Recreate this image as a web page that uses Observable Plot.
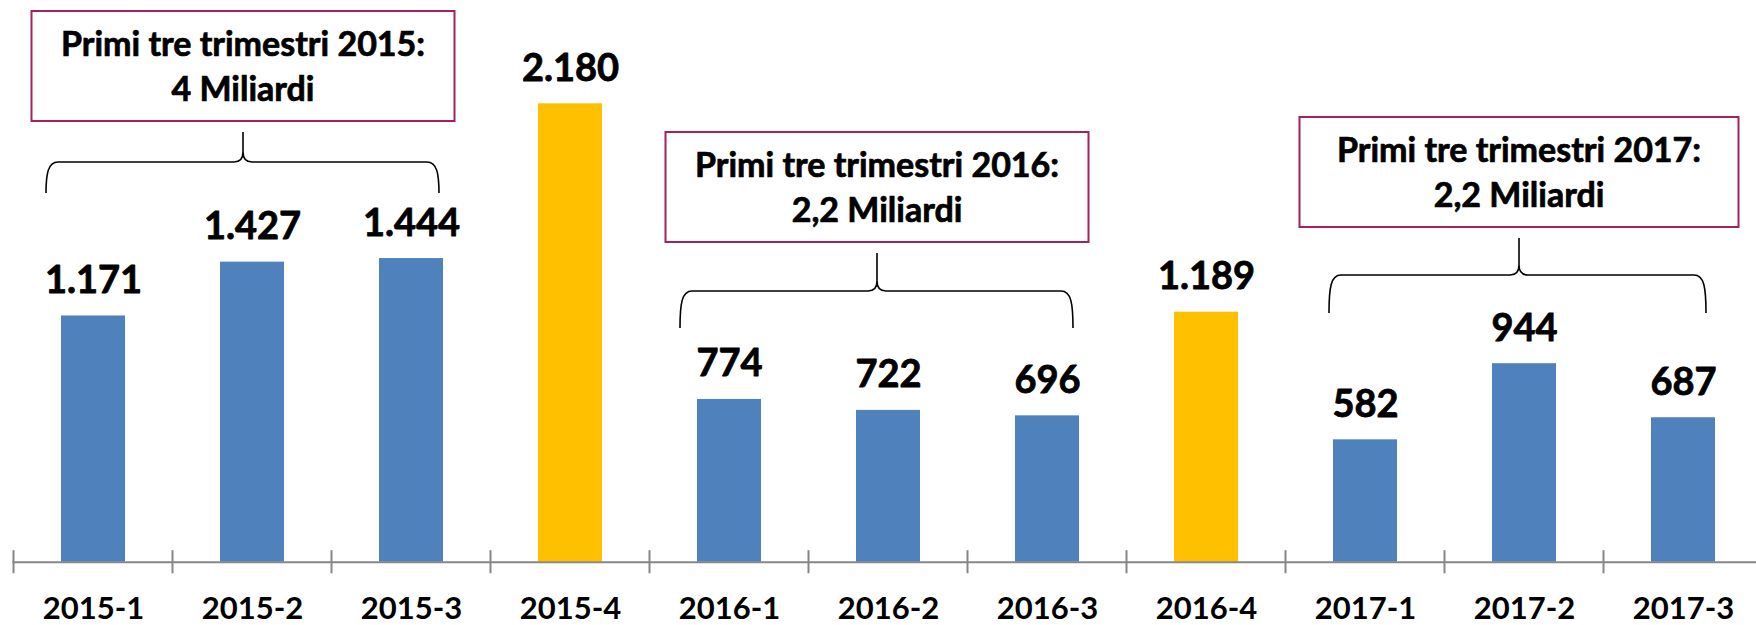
<!DOCTYPE html>
<html>
<head>
<meta charset="utf-8">
<script src="https://cdn.jsdelivr.net/npm/d3@7"></script>
<script src="https://cdn.jsdelivr.net/npm/@observablehq/plot@0.6"></script>
<style>
  html, body { margin: 0; padding: 0; background: #fff; overflow: hidden; }
  #chart svg { display: block; }
</style>
</head>
<body>
<div id="chart"></div>
<script>
// ---- data ----
const quarters = ["2015-1","2015-2","2015-3","2015-4","2016-1","2016-2","2016-3","2016-4","2017-1","2017-2","2017-3"];
const values   = [1171, 1427, 1444, 2180, 774, 722, 696, 1189, 582, 944, 687];
const fourthQuarter = [false,false,false,true,false,false,false,true,false,false,false];

const groupMid   = ["2015-2", "2016-2", "2017-2"];
const groupTitle = ["Primi tre trimestri 2015:", "Primi tre trimestri 2016:", "Primi tre trimestri 2017:"];
const groupTotal = ["4 Miliardi", "2,2 Miliardi", "2,2 Miliardi"];

// ---- styles / layout ----
const COL = { bar: "#4F81BD", q4: "#FFC000", axis: "#868686", box: "#A3215F", text: "#000" };
const FONT = "Lato, 'Open Sans', sans-serif";
const ANN = {
  tipDx:      [-9, -11, -5],
  braceLeft:  [197, 197, 190],
  braceRight: [196, 196, 187],
  braceH:     [162, 291, 275],
  braceB:     [193, 328, 313],
  braceTip:   [132, 253, 238],
  boxHalf:    [211.5, 211.5, 219.5],
  boxTop:     [11, 132, 117],
  boxH: 110,
  line1: 45,
  line2: 89.5
};

const fmt = d3.formatLocale({decimal: ",", thousands: ".", grouping: [3], currency: ["", "€"]}).format(",d");
const data = quarters.map((q, i) => ({q, v: values[i], q4: fourthQuarter[i]}));

function annotations(index, scales, vals, dims, context) {
  const g = d3.create("svg:g");
  const bw = scales.x.bandwidth();
  const step = scales.x.step();
  const y0 = scales.y(0);
  // axis ticks at category boundaries
  quarters.forEach(q => {
    const x = scales.x(q) - (step - bw) / 2;
    g.append("line").attr("x1", x).attr("x2", x).attr("y1", y0 - 11.5).attr("y2", y0 + 11.5)
      .attr("stroke", COL.axis).attr("stroke-width", 2);
  });
  groupMid.forEach((m, i) => {
    const cx = scales.x(m) + bw / 2;
    const T = cx + ANN.tipDx[i];
    const L = T - ANN.braceLeft[i], R = T + ANN.braceRight[i];
    const H = ANN.braceH[i], B = ANN.braceB[i], P = ANN.braceTip[i];
    const path =
      `M${L},${B} C${L},${H + 12} ${L + 2},${H} ${L + 12},${H} L${T - 9},${H} C${T - 3},${H} ${T},${H - 3} ${T},${H - 10} L${T},${P} ` +
      `M${T},${H - 10} C${T},${H - 3} ${T + 3},${H} ${T + 9},${H} L${R - 12},${H} C${R - 2},${H} ${R},${H + 12} ${R},${B}`;
    g.append("path").attr("d", path).attr("fill", "none").attr("stroke", "#000").attr("stroke-width", 1.6);
    const top = ANN.boxTop[i], hw = ANN.boxHalf[i];
    g.append("rect").attr("x", T - hw).attr("y", top).attr("width", 2 * hw).attr("height", ANN.boxH)
      .attr("fill", "#fff").attr("stroke", COL.box).attr("stroke-width", 2);
    const t = g.append("text").attr("text-anchor", "middle").attr("font-family", FONT)
      .attr("font-weight", "bold").attr("font-size", 34).attr("fill", COL.text)
      .attr("stroke", COL.text).attr("stroke-width", 0.7);
    t.append("tspan").attr("x", T).attr("y", top + ANN.line1).text(groupTitle[i]);
    t.append("tspan").attr("x", T).attr("y", top + ANN.line2).text(groupTotal[i]);
  });
  return g.node();
}

const plot = Plot.plot({
  width: 1756,
  height: 625,
  marginLeft: 12.4,
  marginRight: -7.6,
  marginTop: 103.3,
  marginBottom: 63.3,
  style: { fontFamily: FONT, color: "#000", background: "#fff", overflow: "visible" },
  x: { domain: quarters, paddingInner: 0.6, paddingOuter: 0.3, label: null },
  y: { domain: [0, 2180], axis: null },
  marks: [
    Plot.barY(data, { x: "q", y: "v", fill: d => d.q4 ? COL.q4 : COL.bar }),
    Plot.ruleY([0], { stroke: COL.axis, strokeWidth: 2 }),
    Plot.text(data, { x: "q", y: "v", text: d => fmt(d.v), dy: -23, lineAnchor: "bottom",
      fontSize: 38, fontWeight: "bold", fill: COL.text, stroke: COL.text, strokeWidth: 0.8 }),
    Plot.axisX({ tickSize: 0, tickPadding: 35, fontSize: 31, fontWeight: "bold", label: null,
      fill: COL.text, stroke: COL.text, strokeWidth: 0.7 }),
    annotations
  ]
});
document.getElementById("chart").appendChild(plot);
</script>
</body>
</html>
